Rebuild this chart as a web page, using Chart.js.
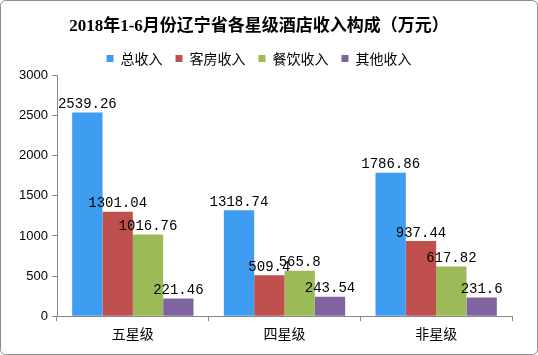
<!DOCTYPE html>
<html><head><meta charset="utf-8">
<script src="https://cdn.jsdelivr.net/npm/chart.js@4.4.0/dist/chart.umd.min.js"></script>
<style>html,body{margin:0;padding:0;background:#fff;}#wrap{width:538px;height:355px;position:relative;}</style>
</head><body><div id="wrap"><canvas id="c" width="538" height="355"></canvas></div>
<script>
const categories = ['五星级', '四星级', '非星级'];
const seriesNames = ['总收入', '客房收入', '餐饮收入', '其他收入'];
const totalIncome = [2539.26, 1318.74, 1786.86];
const roomIncome = [1301.04, 509.4, 937.44];
const foodIncome = [1016.76, 565.8, 617.82];
const otherIncome = [221.46, 243.54, 231.6];
const yTicks = [0, 500, 1000, 1500, 2000, 2500, 3000];
const colors = ['#3e9df0', '#c0504d', '#9bbb59', '#8064a2'];

const frame = {
  id: 'frame',
  beforeDraw(chart) {
    const c = chart.ctx;
    c.save();
    c.fillStyle = '#fff';
    c.fillRect(0, 0, chart.width, chart.height);
    c.restore();
  },
  afterDraw(chart) {
    const c = chart.ctx;
    c.save();
    c.strokeStyle = '#8c8c8c';
    c.lineWidth = 1;
    c.beginPath();
    c.roundRect(0.5, 0.5, chart.width - 1, chart.height - 1, 5);
    c.stroke();
    c.restore();
  }
};
const labels = {
  id: 'labels',
  afterDatasetsDraw(chart) {
    const c = chart.ctx;
    c.save();
    c.font = '14px "Liberation Mono", "DejaVu Sans Mono", monospace';
    c.fillStyle = '#000';
    c.textAlign = 'center';
    c.textBaseline = 'bottom';
    chart.data.datasets.forEach((ds, i) => {
      chart.getDatasetMeta(i).data.forEach((bar, j) => {
        c.fillText(String(ds.data[j]), bar.x, bar.y - 1);
      });
    });
    c.restore();
  }
};

new Chart(document.getElementById('c'), {
  type: 'bar',
  data: {
    labels: categories,
    datasets: [totalIncome, roomIncome, foodIncome, otherIncome].map((d, i) => ({
      label: seriesNames[i], data: d, backgroundColor: colors[i], borderWidth: 0,
      barPercentage: 1.0, categoryPercentage: 0.8
    }))
  },
  options: {
    responsive: false, animation: false, devicePixelRatio: 1,
    layout: { padding: { top: 6, right: 26, left: 6, bottom: 9 } },
    plugins: {
      title: { display: true, text: '2018年1-6月份辽宁省各星级酒店收入构成（万元）',
        color: '#000', font: { family: '"Liberation Serif", "Noto Sans CJK SC", serif', size: 17, weight: 'bold' },
        padding: { top: 10, bottom: 2 } },
      legend: { display: true, position: 'top',
        labels: { boxWidth: 7, boxHeight: 7, color: '#000', padding: 13,
          font: { family: '"Noto Sans CJK SC", sans-serif', size: 14 } } },
      tooltip: { enabled: false }
    },
    scales: {
      x: {
        grid: { display: true, drawOnChartArea: false, drawTicks: true, tickLength: 5, color: '#888', offset: true },
        border: { color: '#888' },
        ticks: { color: '#000', padding: 4, font: { family: '"Noto Sans CJK SC", sans-serif', size: 14 } }
      },
      y: {
        min: 0, max: 3000,
        afterBuildTicks(s) { s.ticks = yTicks.map(v => ({ value: v })); },
        afterFit(s) { s.width = 51; },
        grid: { display: true, drawOnChartArea: false, drawTicks: true, tickLength: 5, color: '#888' },
        border: { color: '#888' },
        ticks: { color: '#000', padding: 4, callback: v => String(v),
          font: { family: '"Liberation Sans", Arial, sans-serif', size: 13 } }
      }
    }
  },
  plugins: [frame, labels]
});
</script></body></html>
